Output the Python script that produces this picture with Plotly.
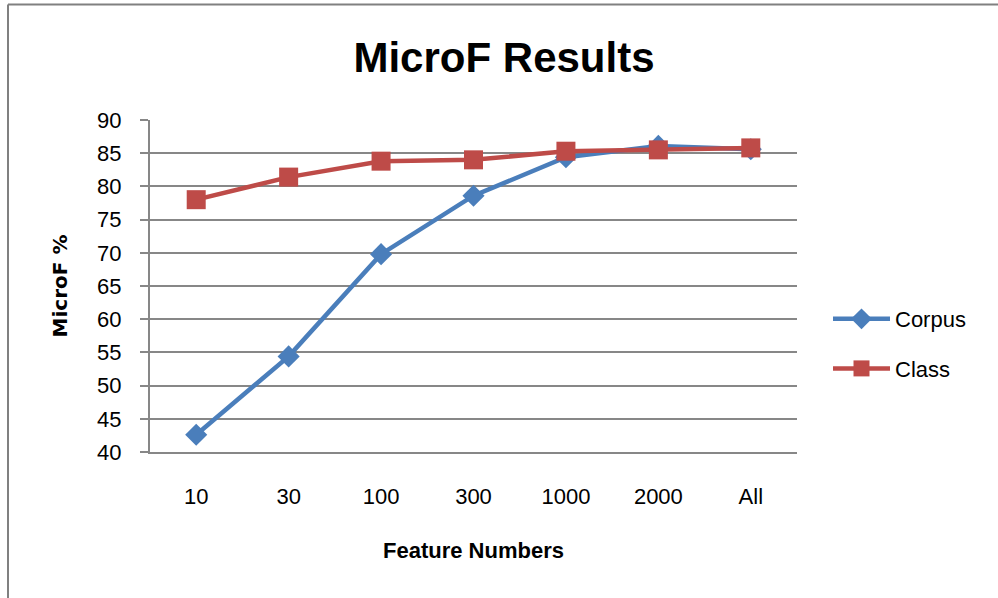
import plotly.graph_objects as go

categories = ["10", "30", "100", "300", "1000", "2000", "All"]
corpus = [42.6, 54.4, 69.8, 78.6, 84.4, 86.1, 85.6]
class_vals = [78.0, 81.4, 83.8, 84.0, 85.3, 85.5, 85.8]
y_ticks = [40, 45, 50, 55, 60, 65, 70, 75, 80, 85, 90]

FONT = "Liberation Sans, Arial, sans-serif"
BLUE = "#4A7EBB"
RED = "#BE4B48"
GRID = "#878787"

W, H = 998, 598
L, R, T, B = 150, 201, 120, 146
PW, PH = W - L - R, H - T - B

fig = go.Figure()
fig.add_trace(go.Scatter(
    x=categories, y=corpus, name="Corpus", mode="lines+markers",
    line=dict(color=BLUE, width=4.5),
    marker=dict(symbol="diamond", size=17, color=BLUE),
    legendgroup="a",
))
fig.add_trace(go.Scatter(
    x=categories, y=class_vals, name="Class", mode="lines+markers",
    line=dict(color=RED, width=4.5),
    marker=dict(symbol="square", size=19, color=RED),
    legendgroup="b",
))

def px_x(p):
    return (p - L) / PW

def px_y(p):
    return (H - B - p) / PH

fig.update_layout(
    width=W, height=H,
    margin=dict(l=L, r=R, t=T, b=B, autoexpand=False),
    paper_bgcolor="white", plot_bgcolor="white",
    font=dict(family=FONT, size=22, color="black"),
    title=dict(text="<b>MicroF Results</b>", x=504 / W, xref="container", xanchor="center",
               y=1 - 57 / H, yref="container", yanchor="middle",
               font=dict(family=FONT, size=42, color="black")),
    showlegend=True,
    legend=dict(x=px_x(828), y=px_y(344), xanchor="left", yanchor="middle",
                font=dict(family=FONT, size=22, color="black"),
                traceorder="grouped", tracegroupgap=18, itemwidth=57,
                bgcolor="rgba(0,0,0,0)"),
    xaxis=dict(type="category", categoryorder="array", categoryarray=categories,
               range=[-0.5, len(categories) - 0.5],
               showgrid=False, showline=True, linecolor=GRID, linewidth=2,
               ticks="", ticklabelstandoff=24, tickfont=dict(size=22),
               title=dict(text="<b>Feature Numbers</b>", standoff=34,
                          font=dict(family=FONT, size=22, color="black")),
               zeroline=False),
    yaxis=dict(range=[40, 90], tickvals=y_ticks, showgrid=True, gridcolor=GRID, gridwidth=1.5,
               showline=True, linecolor=GRID, linewidth=2,
               ticks="outside", ticklen=8, tickcolor=GRID, tickwidth=1.5,
               ticklabelstandoff=14, tickfont=dict(size=22),
               title=dict(text="<b>MicroF %</b>", standoff=24,
                          font=dict(family="DejaVu Sans, Verdana, sans-serif", size=20, color="black")),
               zeroline=False),
    shapes=[
        dict(type="line", xref="paper", yref="paper", x0=px_x(8), x1=px_x(998),
             y0=px_y(4.5), y1=px_y(4.5), line=dict(color="#808080", width=2), layer="below"),
        dict(type="line", xref="paper", yref="paper", x0=px_x(8), x1=px_x(8),
             y0=px_y(4.5), y1=px_y(598), line=dict(color="#808080", width=2), layer="below"),
    ],
)

fig.write_html("out.html", config={"displayModeBar": False},
               post_script="document.body.style.margin='0';document.body.style.overflow='hidden';")
